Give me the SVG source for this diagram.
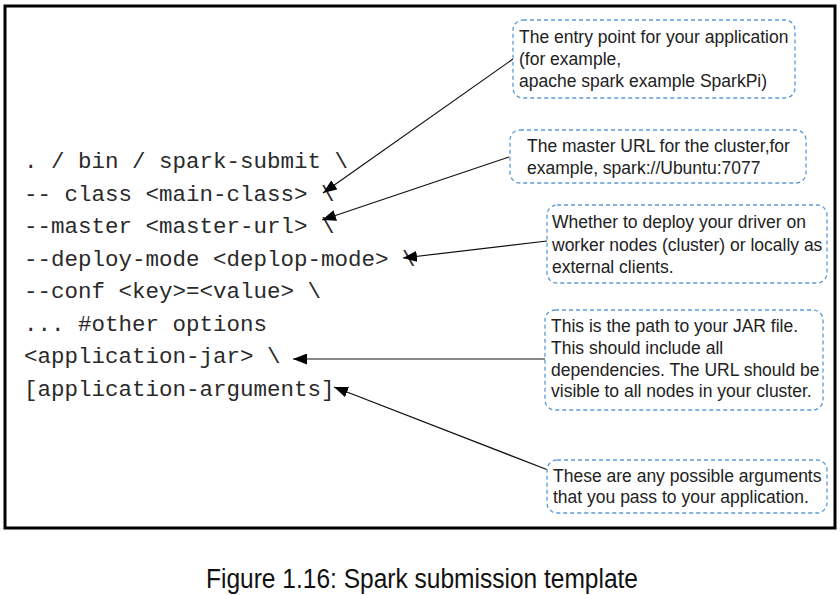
<svg xmlns="http://www.w3.org/2000/svg" width="840" height="595" viewBox="0 0 840 595">
<style>
.code{font-family:"Liberation Mono","Courier New",monospace;font-size:22.5px;fill:#2a2a2a;}
.note{font-family:"Liberation Sans",Arial,sans-serif;font-size:17.5px;fill:#222;}
.box{fill:#fff;stroke:#5b9bd5;stroke-width:1.3;stroke-dasharray:4 3;}
.arr{fill:none;stroke:#111;stroke-width:1.2;marker-end:url(#ah);}
.cap{font-family:"Liberation Sans",Arial,sans-serif;font-size:27px;fill:#111;}
</style>
<defs>
<marker id="ah" markerUnits="userSpaceOnUse" markerWidth="15" markerHeight="11" refX="14" refY="5.5" orient="auto">
<path d="M0,0 L14,5.5 L0,11 z" fill="#000"/>
</marker>
</defs>
<rect x="5" y="6" width="830" height="522" fill="#fff" stroke="#000" stroke-width="3"/>
<g id="code">
<text class="code" x="24" y="168" xml:space="preserve">. / bin / spark-submit \</text>
<text class="code" x="24" y="200.5" xml:space="preserve">-- class &lt;main-class&gt; \</text>
<text class="code" x="24" y="233" xml:space="preserve">--master &lt;master-url&gt; \</text>
<text class="code" x="24" y="265.5" xml:space="preserve">--deploy-mode &lt;deplop-mode&gt; \</text>
<text class="code" x="24" y="298" xml:space="preserve">--conf &lt;key&gt;=&lt;value&gt; \</text>
<text class="code" x="24" y="330.5" xml:space="preserve">... #other options</text>
<text class="code" x="24" y="363" xml:space="preserve">&lt;application-jar&gt; \</text>
<text class="code" x="24" y="395.5" xml:space="preserve">[application-arguments]</text>
</g>
<g id="connectors">
<line class="arr" x1="513" y1="59" x2="323" y2="193"/>
<line class="arr" x1="509" y1="157" x2="322" y2="220"/>
<line class="arr" x1="547" y1="241" x2="403" y2="258"/>
<line class="arr" x1="545" y1="359" x2="293" y2="359"/>
<line class="arr" x1="548" y1="470" x2="334" y2="387"/>
</g>
<g id="note-class">
<rect class="box" x="513" y="20" width="282" height="78" rx="10"/>
<text class="note" x="519" y="43">The entry point for your application</text>
<text class="note" x="519" y="65">(for example,</text>
<text class="note" x="519" y="87">apache spark example SparkPi)</text>
</g>
<g id="note-master">
<rect class="box" x="510" y="130" width="296" height="53" rx="10"/>
<text class="note" x="527" y="152">The master URL for the cluster,for</text>
<text class="note" x="527" y="174">example, spark://Ubuntu:7077</text>
</g>
<g id="note-deploy">
<rect class="box" x="547" y="205" width="280" height="78" rx="10"/>
<text class="note" x="552" y="228">Whether to deploy your driver on</text>
<text class="note" x="552" y="251">worker nodes (cluster) or locally as</text>
<text class="note" x="552" y="273">external clients.</text>
</g>
<g id="note-jar">
<rect class="box" x="545" y="310" width="278" height="100" rx="10"/>
<text class="note" x="551" y="332">This is the path to your JAR file.</text>
<text class="note" x="551" y="354">This should include all</text>
<text class="note" x="551" y="376">dependencies. The URL should be</text>
<text class="note" x="551" y="397">visible to all nodes in your cluster.</text>
</g>
<g id="note-args">
<rect class="box" x="547" y="460" width="280" height="53" rx="10"/>
<text class="note" x="553" y="482">These are any possible arguments</text>
<text class="note" x="553" y="503">that you pass to your application.</text>
</g>
<text class="cap" x="206" y="588" textLength="432" lengthAdjust="spacingAndGlyphs">Figure 1.16: Spark submission template</text>
</svg>
